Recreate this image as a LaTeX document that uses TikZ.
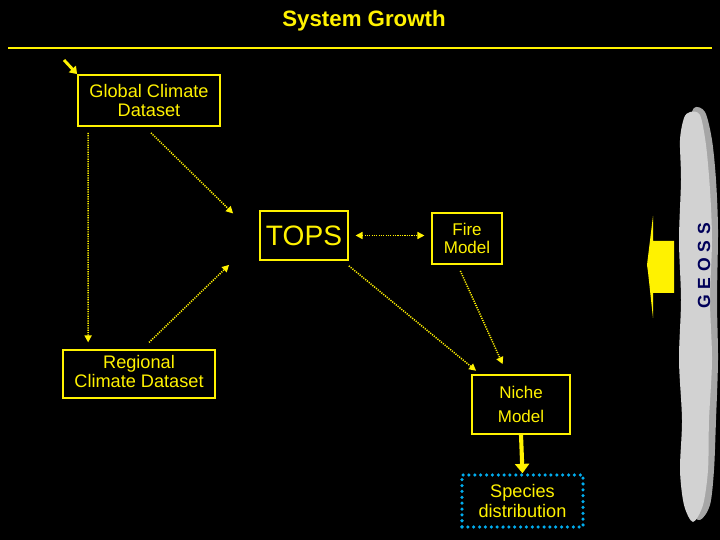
\documentclass[tikz,border=0pt]{standalone}
\usepackage{fontspec}
\setmainfont{Liberation Sans}
\usetikzlibrary{arrows.meta}
\begin{document}
\begin{tikzpicture}[x=0.03cm,y=-0.03cm,
  box/.style={draw=yellow,line width=1.5pt,text=yellow,align=center,font=\fontsize{15.5}{17}\selectfont,inner sep=0pt},
  dotarrow/.style={yellow,line width=1.3pt,dash pattern=on 1pt off 1pt,-{Triangle[width=6pt,length=6pt]}},
  dotboth/.style={yellow,line width=1.3pt,dash pattern=on 1pt off 1pt,{Triangle[width=6pt,length=6pt]}-{Triangle[width=6pt,length=6pt]}}]
\fill[black] (0,0) rectangle (720,540);
\useasboundingbox (0,0) rectangle (720,540);
\node[text=yellow,font=\bfseries\fontsize{19}{22}\selectfont] (title) at (364,21) {System Growth};
\draw[yellow,line width=1.8pt] (8,48) coordinate (l1) -- (712,48) coordinate (l2);
\node[box,minimum width=4.26cm,minimum height=1.53cm] (glob) at (149,100.5) {Global Climate\\Dataset};
\node[box,minimum width=2.64cm,minimum height=1.47cm,font=\fontsize{24}{26}\selectfont] (tops) at (304,235.5) {TOPS};
\node[box,minimum width=2.1cm,minimum height=1.53cm,font=\fontsize{14.5}{16}\selectfont] (fire) at (467,238.5) {Fire\\Model};
\node[box,minimum width=4.56cm,minimum height=1.44cm] (reg) at (139,374) {\raisebox{4pt}{\begin{tabular}{@{}c@{}}Regional\\Climate Dataset\end{tabular}}};
\node[box,minimum width=2.94cm,minimum height=1.77cm,font=\fontsize{14.5}{16}\selectfont] (niche) at (521,404.5) {Niche\\[5pt]Model};
\node[box,draw=cyan,dash pattern=on 0pt off 5pt,line cap=round,line width=3pt,minimum width=3.63cm,minimum height=1.56cm] (spec) at (522.5,501) {Species\\distribution};
\coordinate (a0) at (64,60);
\draw[yellow,line width=2.5pt,-{Triangle[width=8pt,length=6pt]}] (a0) -- (glob.north west);
\draw[dotarrow] ([xshift=0.06cm,yshift=-0.18cm]glob.south) -- ([xshift=-0.78cm,yshift=-0.1cm]tops.north west);
\draw[dotarrow] ([xshift=0.33cm,yshift=-0.18cm]glob.south west) -- ([xshift=0.78cm,yshift=0.2cm]reg.north west);
\draw[dotarrow] ([xshift=0.3cm,yshift=0.2cm]reg.north) -- ([xshift=-0.9cm,yshift=-0.12cm]tops.south west);
\draw[dotboth] ([xshift=0.2cm]tops.east) -- ([xshift=-0.2cm]fire.west|-tops.east);
\draw[dotarrow] ([yshift=-0.15cm]tops.south east) -- ([xshift=0.15cm,yshift=0.1cm]niche.north west);
\draw[dotarrow] ([xshift=-0.2cm,yshift=-0.18cm]fire.south) -- ([xshift=-0.55cm,yshift=0.3cm]niche.north);
\draw[yellow,line width=3.5pt,-{Triangle[width=12pt,length=8pt]}] (niche.south) -- (spec.north);
% GEOSS cloud
\fill[gray!70] plot[smooth cycle] coordinates {(694,108)(705,112)(712,140)(716,180)(718,230)(717,300)(718,360)(716,420)(714,470)(710,505)(700,520)(690,510)(688,470)(686,420)(688,360)(686,300)(688,230)(686,170)(688,130)};
\fill[gray!35] plot[smooth cycle] coordinates {(690,112)(700,115)(706,145)(710,190)(712,240)(710,300)(712,360)(709,420)(708,470)(703,505)(693,522)(684,505)(680,470)(682,420)(679,360)(681,300)(679,240)(681,180)(680,140)(684,118)};
\node[text=blue!35!black,rotate=90,font=\bfseries\fontsize{15}{17}\selectfont] (geoss) at (704,266) {G\,\,E\,\,O\,\,S\,\,S};
\fill[yellow] (653,216) -- (653,241) -- (674,241) -- (674,293) -- (653,293) -- (653,318) -- (648,272) -- (647,265) -- cycle;
\end{tikzpicture}
\end{document}
